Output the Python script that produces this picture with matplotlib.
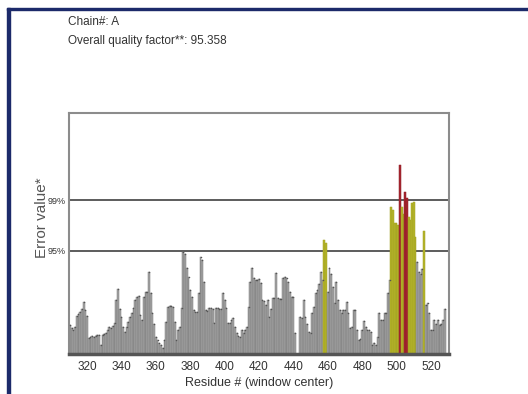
import numpy as np
import matplotlib
matplotlib.use("Agg")
import matplotlib.pyplot as plt
from matplotlib.patches import Rectangle

plt.rcParams['font.family'] = ['Liberation Sans Narrow', 'Liberation Sans', 'DejaVu Sans']

# residue numbers (window centre) and error values
first_res = 310
error_vals = [
    29, 26, 24, 27, 38, 40, 42, 45, 52, 44,
    38, 16, 17, 18, 17, 18, 19, 19, 9, 19,
    20, 21, 24, 27, 26, 28, 31, 54, 65, 45,
    37, 27, 22, 27, 32, 37, 41, 46, 54, 57,
    58, 39, 34, 57, 62, 62, 82, 61, 41, 30,
    17, 14, 11, 9, 6, 14, 32, 47, 48, 48,
    47, 32, 14, 24, 27, 46, 102, 100, 86, 77,
    64, 57, 44, 42, 42, 61, 97, 94, 72, 44,
    43, 46, 46, 45, 31, 46, 46, 45, 45, 61,
    54, 46, 31, 31, 34, 36, 27, 21, 18, 17,
    24, 21, 24, 27, 47, 72, 86, 76, 74, 74,
    75, 71, 54, 53, 49, 54, 37, 45, 56, 56,
    81, 56, 55, 55, 76, 77, 76, 72, 62, 57,
    57, 21, 0, 0, 37, 36, 54, 37, 30, 22,
    21, 41, 47, 61, 64, 70, 82, 74, 114, 111,
    62, 86, 80, 67, 51, 72, 54, 44, 41, 44,
    44, 52, 41, 26, 27, 44, 44, 24, 14, 15,
    24, 33, 27, 24, 24, 22, 9, 11, 9, 17,
    41, 34, 34, 41, 41, 61, 74, 147, 144, 131,
    131, 129, 189, 147, 140, 162, 156, 137, 134, 151,
    152, 117, 92, 82, 80, 85, 123, 49, 51, 41,
    24, 24, 34, 30, 34, 29, 30, 34, 45,
]
residues = np.arange(first_res, first_res + len(error_vals))
limit_95 = 103
limit_99 = 154
x_ticks = [320, 340, 360, 380, 400, 420, 440, 460, 480, 500, 520]

vals = np.array(error_vals)
gray, yellow, red = '#a2a2a2', '#b5b52a', '#a82630'
colors = np.where(vals > limit_99, red, np.where(vals > limit_95, yellow, gray))
edges = np.where(vals > limit_99, '#8a1c24', np.where(vals > limit_95, '#a0a020', '#7a7a7a'))

W, H = 528, 394
fig = plt.figure(figsize=(W / 100, H / 100), dpi=100)
fig.patch.set_facecolor('white')

# navy window frame (left and top)
fig.add_artist(Rectangle((7 / W, 0), 3 / W, 1 - 8 / H, transform=fig.transFigure,
                         color='#1c2a6a', zorder=5))
fig.add_artist(Rectangle((7 / W, 1 - 10 / H), 1 - 7 / W, 2 / H, transform=fig.transFigure,
                         color='#1c2a6a', zorder=5))

fig.text(68 / W, 1 - 22 / H, "Chain#: A", fontsize=8.5, color='#333333', va='center')
fig.text(68 / W, 1 - 41 / H, "Overall quality factor**: 95.358", fontsize=8.5,
         color='#333333', va='center')

ax = fig.add_axes([69 / W, 1 - 354 / H, 380 / W, 241 / H])
ax.bar(residues, vals, width=1.08, color=colors, edgecolor=edges, linewidth=0.35, zorder=2)
low = vals <= limit_95
ax.scatter(residues[low & (vals > 0)], vals[low & (vals > 0)], s=1.2, color='#555555',
           zorder=3, linewidths=0)

ax.axhline(limit_95, color='#5c5c5c', lw=1.4, zorder=1)
ax.axhline(limit_99, color='#5c5c5c', lw=1.4, zorder=1)

ax.set_xlim(309.5, 530.5)
ax.set_ylim(0, 241)
ax.set_xticks(x_ticks)
ax.set_xticklabels([str(t) for t in x_ticks])
ax.set_yticks([limit_95, limit_99])
ax.set_yticklabels(['95%', '99%'])
ax.tick_params(axis='x', length=0, pad=5, labelsize=8.5, labelcolor='#333333')
ax.tick_params(axis='y', length=0, pad=2, labelsize=6.5, labelcolor='#333333')

for side in ['top', 'left', 'right']:
    ax.spines[side].set_color('#8c8c8c')
    ax.spines[side].set_linewidth(1.5)
ax.spines['bottom'].set_color('#555555')
ax.spines['bottom'].set_linewidth(2.5)

ax.set_xlabel("Residue # (window center)", fontsize=9, color='#333333', labelpad=3)
fig.text(42 / W, 1 - 218 / H, "Error value*", rotation=90, fontsize=11,
         family=['Liberation Sans', 'DejaVu Sans'], color='#555555',
         ha='center', va='center')

fig.savefig('out.png', dpi=100)
